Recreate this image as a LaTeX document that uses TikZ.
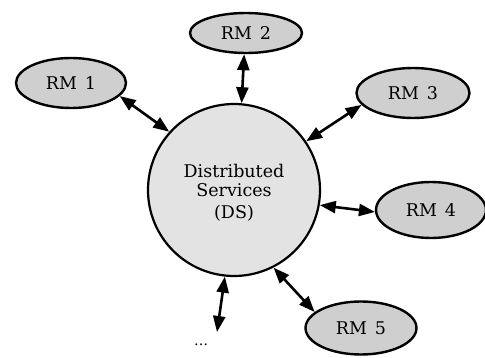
\documentclass[tikz,border=0pt]{standalone}
\usepackage{fontspec}
\setmainfont{DejaVu Serif}
\usetikzlibrary{shapes.geometric,arrows.meta}
\begin{document}
\begin{tikzpicture}[x=1pt,y=-1pt,
  rm/.style={ellipse,draw,line width=2.4pt,fill=gray!38,inner sep=0pt,font=\fontsize{17.5}{20}\selectfont},
  link/.style={{Triangle[length=16pt,width=12pt]}-{Triangle[length=16pt,width=12pt]},line width=2.6pt}]
\useasboundingbox (0,0) rectangle (485,358);
\node[circle,draw,line width=2.2pt,fill=gray!22,minimum size=172pt,inner sep=0pt,font=\fontsize{17.5}{19}\selectfont] (ds) at (234,190)
  {\raisebox{-9pt}[0pt][0pt]{\begin{tabular}{@{}c@{}}Distributed\\Services\\[3pt](DS)\end{tabular}}};
\node[rm,minimum width=110pt,minimum height=50pt] (rm1) at (71,83) {RM\hspace{8pt}1};
\node[rm,minimum width=112pt,minimum height=40pt] (rm2) at (246,33) {RM\hspace{8pt}2};
\node[rm,minimum width=113pt,minimum height=50pt] (rm3) at (413,93) {RM\hspace{8pt}3};
\node[rm,minimum width=110pt,minimum height=56pt] (rm4) at (431,210) {RM\hspace{8pt}4};
\node[rm,minimum width=111pt,minimum height=53pt] (rm5) at (361,328) {RM\hspace{8pt}5};
\node[font=\fontsize{14}{16}\selectfont] (dots) at (201,345) {\ldots};
\coordinate (dend) at (217,332);
\draw[link] (rm1.-15) -- (ds.138);
\draw[link] (rm2.-95) -- (ds.85);
\draw[link] (rm3.193) -- (ds.34);
\draw[link] (ds.-10) -- (rm4.182);
\draw[link] (ds.-63) -- (rm5.161);
\draw[link] (ds.-96) -- (dend);
\end{tikzpicture}
\end{document}
